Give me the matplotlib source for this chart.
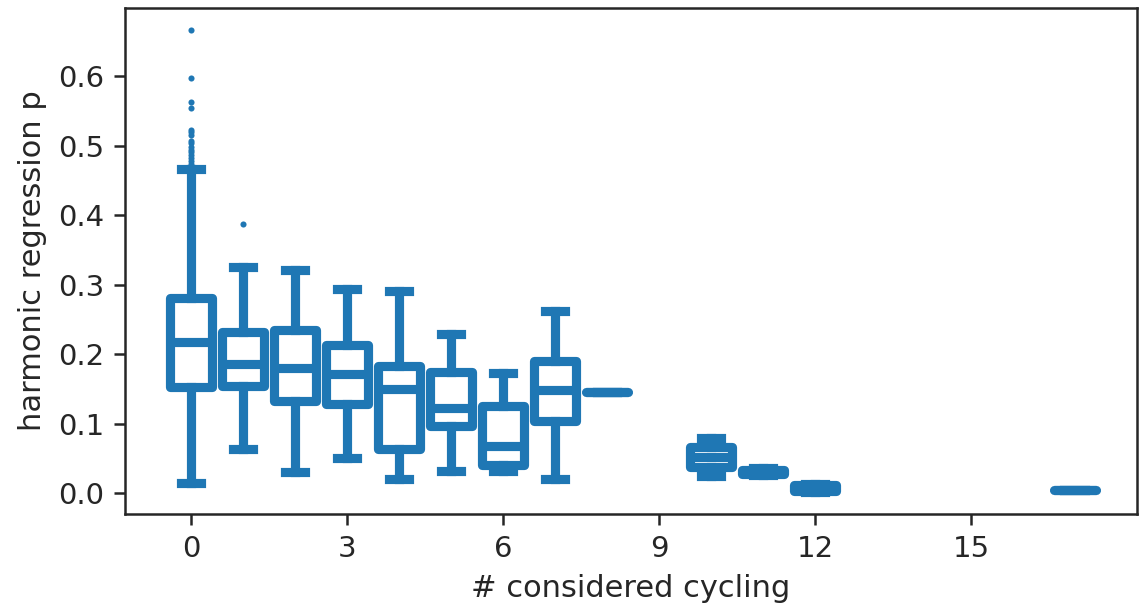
import matplotlib
matplotlib.use("Agg")
import matplotlib.pyplot as plt
from matplotlib.ticker import MultipleLocator, FormatStrFormatter

# box statistics per number of considered cycling genes
positions = [0, 1, 2, 3, 4, 5, 6, 7, 8, 10, 11, 12, 17]
medians = [0.217, 0.185, 0.180, 0.171, 0.149, 0.123, 0.068, 0.148, 0.146, 0.052, 0.030, 0.007, 0.0045]
q1 = [0.153, 0.154, 0.133, 0.128, 0.064, 0.096, 0.041, 0.103, 0.146, 0.037, 0.027, 0.003, 0.004]
q3 = [0.281, 0.232, 0.234, 0.213, 0.183, 0.174, 0.125, 0.190, 0.146, 0.066, 0.033, 0.011, 0.005]
whislo = [0.014, 0.063, 0.030, 0.051, 0.020, 0.032, 0.032, 0.020, 0.146, 0.025, 0.026, 0.001, 0.004]
whishi = [0.466, 0.325, 0.321, 0.293, 0.290, 0.229, 0.173, 0.262, 0.146, 0.079, 0.036, 0.013, 0.005]
fliers_0 = [0.666, 0.597, 0.563, 0.554, 0.522, 0.519, 0.515, 0.506, 0.503,
            0.498, 0.494, 0.490, 0.486, 0.482, 0.478, 0.474, 0.471]
fliers_1 = [0.387]
xticks = [0, 3, 6, 9, 12, 15]

color = "#1f77b4"
text_color = "#262626"

stats = []
for i, p in enumerate(positions):
    fl = fliers_0 if p == 0 else (fliers_1 if p == 1 else [])
    stats.append(dict(med=medians[i], q1=q1[i], q3=q3[i],
                      whislo=whislo[i], whishi=whishi[i], fliers=fl))

plt.rcParams["font.family"] = "DejaVu Sans"
fig = plt.figure(figsize=(5.7, 3.055), dpi=200)
ax = fig.add_axes([0.1096, 0.159, 0.888, 0.828])

lw = 3.3
res = ax.bxp(stats, positions=positions, widths=0.8, patch_artist=True,
             manage_ticks=False,
             boxprops=dict(facecolor="white", edgecolor=color, linewidth=lw),
             medianprops=dict(color=color, linewidth=lw),
             whiskerprops=dict(color=color, linewidth=lw),
             capprops=dict(color=color, linewidth=lw),
             flierprops=dict(marker="o", markersize=2.2, markerfacecolor=color,
                             markeredgecolor=color, markeredgewidth=0))
# rounded box corners like the original
for b in res["boxes"]:
    b.set_joinstyle("round")
    b.set_capstyle("round")

ax.set_xlim(-1.27, 18.2)
ax.set_ylim(-0.030, 0.698)
ax.set_xticks(xticks)
ax.yaxis.set_major_locator(MultipleLocator(0.1))
ax.yaxis.set_major_formatter(FormatStrFormatter("%.1f"))

ax.set_xlabel("# considered cycling", fontsize=11, color=text_color)
ax.set_ylabel("harmonic regression p", fontsize=11, color=text_color)
ax.tick_params(labelsize=10.5, colors=text_color, width=0.9, length=4)
for s in ax.spines.values():
    s.set_linewidth(0.9)
    s.set_color(text_color)

fig.savefig("out.png", dpi=200)
